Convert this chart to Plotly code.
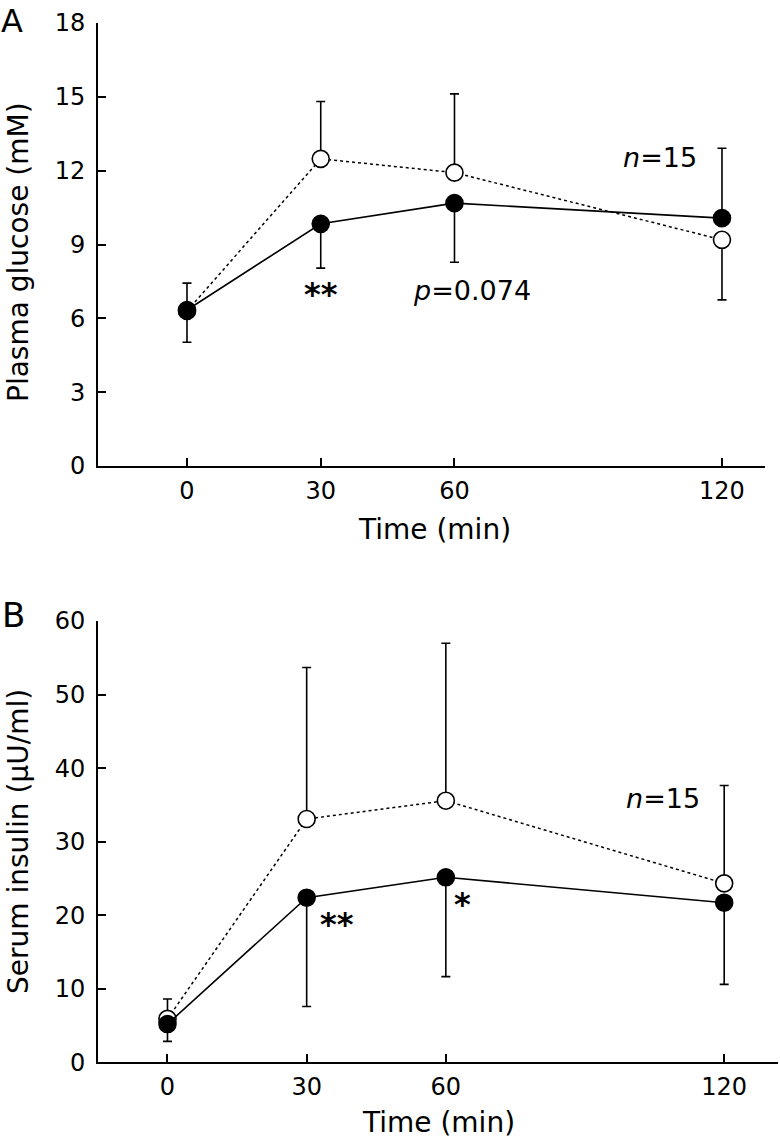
import plotly.graph_objects as go

# ---- data ----
time_min = [0, 30, 60, 120]

# Panel A: plasma glucose (mM)
glu_open = [6.30, 12.48, 11.92, 9.19]
glu_open_up = [1.13, 2.33, 3.20, 0.0]
glu_open_dn = [0.0, 0.0, 0.0, 2.44]
glu_filled = [6.34, 9.84, 10.68, 10.07]
glu_filled_up = [0.0, 0.0, 0.0, 2.84]
glu_filled_dn = [1.31, 1.80, 2.40, 0.0]

# Panel B: serum insulin (µU/ml)
ins_open = [5.9, 33.08, 35.57, 24.33]
ins_open_up = [2.7, 20.6, 21.4, 13.3]
ins_open_dn = [0.0, 0.0, 0.0, 0.0]
ins_filled = [5.2, 22.38, 25.15, 21.7]
ins_filled_up = [0.0, 0.0, 0.0, 0.0]
ins_filled_dn = [2.35, 14.8, 13.5, 11.1]

x_ticks = [0, 30, 60, 120]
yA_ticks = [0, 3, 6, 9, 12, 15, 18]
yB_ticks = [0, 10, 20, 30, 40, 50, 60]

FONT = "DejaVu Sans"
W, H = 780, 1141


def fx(px):
    return px / W


def fy(py):
    return 1 - py / H


fig = go.Figure()


def add_series(y, up, dn, filled, xa, ya):
    fig.add_trace(go.Scatter(
        x=time_min, y=y, xaxis=xa, yaxis=ya, mode="lines+markers",
        line=dict(color="black", width=1.6 if filled else 1.5,
                  dash="solid" if filled else "dot"),
        marker=dict(size=17, color="black" if filled else "white",
                    line=dict(color="black", width=1.6)),
        error_y=dict(type="data", symmetric=False, array=up, arrayminus=dn,
                     color="black", thickness=1.6, width=4.5),
        showlegend=False, hoverinfo="x+y"))


add_series(glu_open, glu_open_up, glu_open_dn, False, "x", "y")
add_series(glu_filled, glu_filled_up, glu_filled_dn, True, "x", "y")
add_series(ins_open, ins_open_up, ins_open_dn, False, "x2", "y2")
add_series(ins_filled, ins_filled_up, ins_filled_dn, True, "x2", "y2")

tickfont = dict(family=FONT, size=24, color="black")
axis_common = dict(showline=True, linecolor="black", linewidth=2,
                   ticks="inside", ticklen=8, tickwidth=1.5, tickcolor="black",
                   showgrid=False, zeroline=False, tickfont=tickfont,
                   automargin=False)

fig.update_layout(
    template="none",
    width=W, height=H, margin=dict(l=0, r=0, t=0, b=0, pad=0, autoexpand=False),
    paper_bgcolor="white", plot_bgcolor="white",
    font=dict(family=FONT, color="black"),
    xaxis=dict(domain=[fx(98), fx(765)], range=[-19.96, 129.65],
               tickvals=x_ticks, anchor="y", ticklabelstandoff=2, **axis_common),
    yaxis=dict(domain=[fy(466), fy(23)], range=[0, 18],
               tickvals=yA_ticks, anchor="x", ticklabelstandoff=6, **axis_common),
    xaxis2=dict(domain=[fx(98), fx(778)], range=[-14.98, 131.6],
                tickvals=x_ticks, anchor="y2", ticklabelstandoff=2, **axis_common),
    yaxis2=dict(domain=[fy(1062.3), fy(621)], range=[0, 60],
                tickvals=yB_ticks, anchor="x2", ticklabelstandoff=6, **axis_common),
)

ann_font = dict(family=FONT, size=27, color="black")
title_font = dict(family=FONT, size=28, color="black")
star_font = dict(family=FONT, size=32, color="black")


def pann(text, px, py, font, angle=0):
    fig.add_annotation(text=text, x=fx(px), y=fy(py), xref="paper", yref="paper",
                       showarrow=False, font=font, textangle=angle,
                       xanchor="center", yanchor="middle")


def dann(text, x, y, xr, yr, font):
    fig.add_annotation(text=text, x=x, y=y, xref=xr, yref=yr, showarrow=False,
                       font=font, xanchor="center", yanchor="middle")


# panel letters
pann("A", 12, 21, dict(family=FONT, size=32, color="black"))
pann("B", 13, 615, dict(family=FONT, size=34, color="black"))

# axis titles
pann("Time (min)", 434, 529, title_font)
pann("Time (min)", 438, 1122, title_font)
pann("Plasma glucose (mM)", 18, 252, title_font, -90)
pann("Serum insulin (µU/ml)", 18, 842, title_font, -90)

# panel A annotations
dann("<i>n</i>=15", 106.1, 12.52, "x", "y", ann_font)
dann("<i>p</i>=0.074", 63.9, 7.15, "x", "y", ann_font)
dann("<b>**</b>", 30, 6.97, "x", "y", star_font)

# panel B annotations
dann("<i>n</i>=15", 106.8, 35.9, "x2", "y2", ann_font)
dann("<b>**</b>", 36.5, 18.75, "x2", "y2", star_font)
dann("<b>*</b>", 63.5, 21.5, "x2", "y2", star_font)

fig.write_html("out.html", config={"displayModeBar": False},
               post_script="document.body.style.margin='0px';")
